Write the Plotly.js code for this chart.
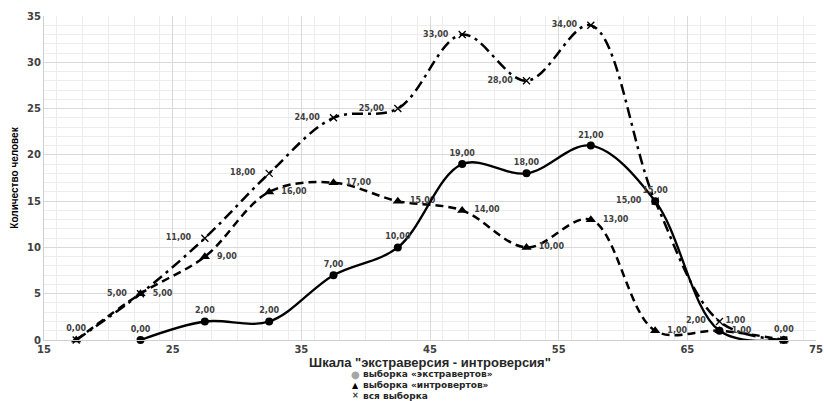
<!DOCTYPE html>
<html>
<head>
<meta charset="utf-8">
<script src="https://cdn.plot.ly/plotly-3.0.1.min.js"></script>
<style>html,body{margin:0;padding:0;background:#fff;}#chart{width:824px;height:401px;}</style>
</head>
<body>
<div id="chart"></div>
<script>
// Data
const xTotal = [17.5, 22.5, 27.5, 32.5, 37.5, 42.5, 47.5, 52.5, 57.5, 62.5, 67.5, 72.5];
const total  = [0, 5, 11, 18, 24, 25, 33, 28, 34, 15, 2, 0];
const xIntro = [17.5, 22.5, 27.5, 32.5, 37.5, 42.5, 47.5, 52.5, 57.5, 62.5, 67.5, 72.5];
const intro  = [0, 5, 9, 16, 17, 15, 14, 10, 13, 1, 1, 0];
const xExtra = [22.5, 27.5, 32.5, 37.5, 42.5, 47.5, 52.5, 57.5, 62.5, 67.5, 72.5];
const extra  = [0, 2, 2, 7, 10, 19, 18, 21, 15, 1, 0];
const names = ['выборка «экстравертов»', 'выборка «интровертов»', 'вся выборка'];
const legendSymbols = ['●', '▲', '×'];
const legendSymbolColors = ['#a6a6a6', '#000', '#333'];
const xTickVals = [15, 25, 35, 45, 55, 65, 75];
const yTickVals = [0, 5, 10, 15, 20, 25, 30, 35];

const fmt = v => v.toFixed(2).replace('.', ',');
const padL = '\u00a0\u00a0\u00a0';
const padR = '\u00a0\u00a0';
const lblFont = {family: 'DejaVu Sans, sans-serif', size: 8, color: '#404040', weight: 'bold'};

const totalText = total.map((v, i) => (i === 0 || i === total.length - 1) ? '' : fmt(v) + padL);
const introText = intro.map((v, i) => i === intro.length - 1 ? '' : (i === 0 ? fmt(v) : padR + fmt(v)));
const introPos = intro.map((v, i) => i === 0 ? 'top center' : 'middle right');
const extraText = extra.map(fmt);
const extraPos = extra.map((v, i) => i === extra.length - 2 ? 'top right' : 'top center');

const traces = [
  {x: xTotal, y: total, mode: 'lines+markers+text', name: names[2],
   line: {color: '#000', width: 2.5, dash: '11px,5px,3px,5px', shape: 'spline', smoothing: 1},
   marker: {symbol: 'x-thin', size: 7, line: {color: '#000', width: 1.3}},
   text: totalText, textposition: 'middle left', textfont: lblFont, cliponaxis: false},
  {x: xIntro, y: intro, mode: 'lines+markers+text', name: names[1],
   line: {color: '#000', width: 2.5, dash: '8px,5px', shape: 'spline', smoothing: 1},
   marker: {symbol: 'triangle-up', size: 9, color: '#000'},
   text: introText, textposition: introPos, textfont: lblFont, cliponaxis: false},
  {x: xExtra, y: extra, mode: 'lines+markers+text', name: names[0],
   line: {color: '#000', width: 2.3, shape: 'spline', smoothing: 1},
   marker: {symbol: 'circle', size: 8, color: '#000'},
   text: extraText, textposition: extraPos, textfont: lblFont, cliponaxis: false}
];

// legend drawn as text annotations below the axis title (compact like the reference)
const legRowsY = [-0.105, -0.139, -0.172];
const legFont = {family: 'DejaVu Sans, sans-serif', size: 9, color: '#262626', weight: 'bold'};
const annotations = [];
names.forEach((n, i) => {
  annotations.push({xref: 'paper', yref: 'paper', x: 0.404, y: legRowsY[i], xanchor: 'center', yanchor: 'middle',
    text: legendSymbols[i], showarrow: false,
    font: {family: 'DejaVu Sans, sans-serif', size: i === 0 ? 10 : 8, color: legendSymbolColors[i], weight: 'bold'}});
  annotations.push({xref: 'paper', yref: 'paper', x: 0.411, y: legRowsY[i], xanchor: 'left', yanchor: 'middle',
    text: n, showarrow: false, font: legFont});
});

const tickFont = {family: 'DejaVu Sans, sans-serif', size: 10, color: '#404040', weight: 'bold'};

const layout = {
  width: 824, height: 401,
  margin: {l: 44, r: 8, t: 16, b: 61},
  paper_bgcolor: '#fff', plot_bgcolor: '#fff',
  showlegend: false,
  annotations: annotations,
  xaxis: {range: [15, 75], tickvals: xTickVals, ticks: '', showline: true, linecolor: '#cfcfcf',
          gridcolor: '#d9d9d9', gridwidth: 1, zeroline: false, tickfont: tickFont, automargin: false,
          minor: {dtick: 2, showgrid: true, gridcolor: '#ededed', gridwidth: 1},
          title: {text: 'Шкала "экстраверсия - интроверсия"', standoff: 0,
                  font: {family: 'Liberation Sans, Arial, sans-serif', size: 13, color: '#262626', weight: 'bold'}}},
  yaxis: {range: [0, 35], tickvals: yTickVals, ticks: '', showline: true, linecolor: '#cfcfcf',
          gridcolor: '#d9d9d9', gridwidth: 1, zeroline: false, tickfont: tickFont, automargin: false,
          minor: {dtick: 1, showgrid: true, gridcolor: '#ededed', gridwidth: 1},
          title: {text: 'Количество человек', standoff: 6,
                  font: {family: 'Liberation Sans Narrow, Arial Narrow, Liberation Sans, sans-serif', size: 10, color: '#000', weight: 'bold'}}}
};

Plotly.newPlot('chart', traces, layout, {displayModeBar: false, staticPlot: true});
</script>
</body>
</html>
